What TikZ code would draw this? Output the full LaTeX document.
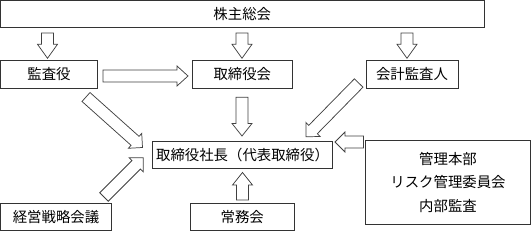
\documentclass[tikz,border=0pt]{standalone}
\usepackage{fontspec}
\newfontfamily\jpfont{Noto Sans CJK JP}
\usetikzlibrary{calc}
\tikzset{
  box/.style={draw=black!80, line width=0.6pt, fill=white, inner sep=0pt,
    font=\jpfont\fontsize{10.8}{17.6}\selectfont, text=black},
  blk/.style={draw=black!75, line width=0.55pt, fill=white, line join=miter},
}
% #1 head length, #2 tail coordinate, #3 tip coordinate
\newcommand\blkarrow[3][8.25pt]{%
  \path ($(#3)!#1!(#2)$) coordinate (bP);
  \draw[blk] ($(#2)!4.5pt!90:(#3)$) -- ($(bP)!4.5pt!90:(#3)$) -- ($(bP)!7.5pt!90:(#3)$)
    -- (#3) -- ($(bP)!7.5pt!-90:(#3)$) -- ($(bP)!4.5pt!-90:(#3)$) -- ($(#2)!4.5pt!-90:(#3)$) -- cycle;}
\begin{document}
\begin{tikzpicture}[x=0.75pt,y=-0.75pt]
\useasboundingbox (0,0) rectangle (531,231);
% boxes
\node[box, minimum width=362.6pt, minimum height=20.25pt] (gm) at (242.25,14) {株主総会};
\node[box, minimum width=72.6pt, minimum height=21pt] (ka) at (49,74.5) {監査役};
\node[box, minimum width=75.2pt, minimum height=21pt] (tb) at (242.3,74.5) {取締役会};
\node[box, minimum width=69pt, minimum height=21pt] (kk) at (412,74.5) {会計監査人};
\node[box, minimum width=135pt, minimum height=20.6pt] (sc) at (242.5,154.75) {取締役社長（代表取締役）};
\node[box, minimum width=83.25pt, minimum height=20.6pt] (ks) at (56,216.75) {経営戦略会議};
\node[box, minimum width=77.6pt, minimum height=20.6pt] (jm) at (242.25,216.75) {常務会};
\node[box, minimum width=123.75pt, minimum height=63pt, align=center] (kr) at (448,182.5) {管理本部\\リスク管理委員会\\内部監査};
% arrow end points
\coordinate (t1s) at (47.5,33);  \coordinate (t1e) at (47.5,58.3);
\coordinate (t2s) at (242,33);   \coordinate (t2e) at (242,58.3);
\coordinate (t3s) at (407,33);   \coordinate (t3e) at (407,58.3);
\coordinate (h1s) at (103,76);   \coordinate (h1e) at (188,76);
\coordinate (v1s) at (242,97.3); \coordinate (v1e) at (242,136);
\coordinate (v2s) at (242.5,200); \coordinate (v2e) at (242.5,172.5);
\coordinate (h2s) at (363.5,142); \coordinate (h2e) at (335,142);
\coordinate (d1s) at (86,97);    \coordinate (d1e) at (142.5,147.5);
\coordinate (d2s) at (104,197);  \coordinate (d2e) at (143.3,157.7);
\coordinate (d3s) at (358.7,83); \coordinate (d3e) at (306,136.7);
% arrows
\blkarrow[10.5pt]{t1s}{t1e}
\blkarrow[10.5pt]{t2s}{t2e}
\blkarrow[10.5pt]{t3s}{t3e}
\blkarrow[8.25pt]{h1s}{h1e}
\blkarrow[9.4pt]{v1s}{v1e}
\blkarrow[9.4pt]{v2s}{v2e}
\blkarrow[7.5pt]{h2s}{h2e}
\blkarrow[7.5pt]{d1s}{d1e}
\blkarrow[7.5pt]{d2s}{d2e}
\blkarrow[7.5pt]{d3s}{d3e}
\end{tikzpicture}
\end{document}
